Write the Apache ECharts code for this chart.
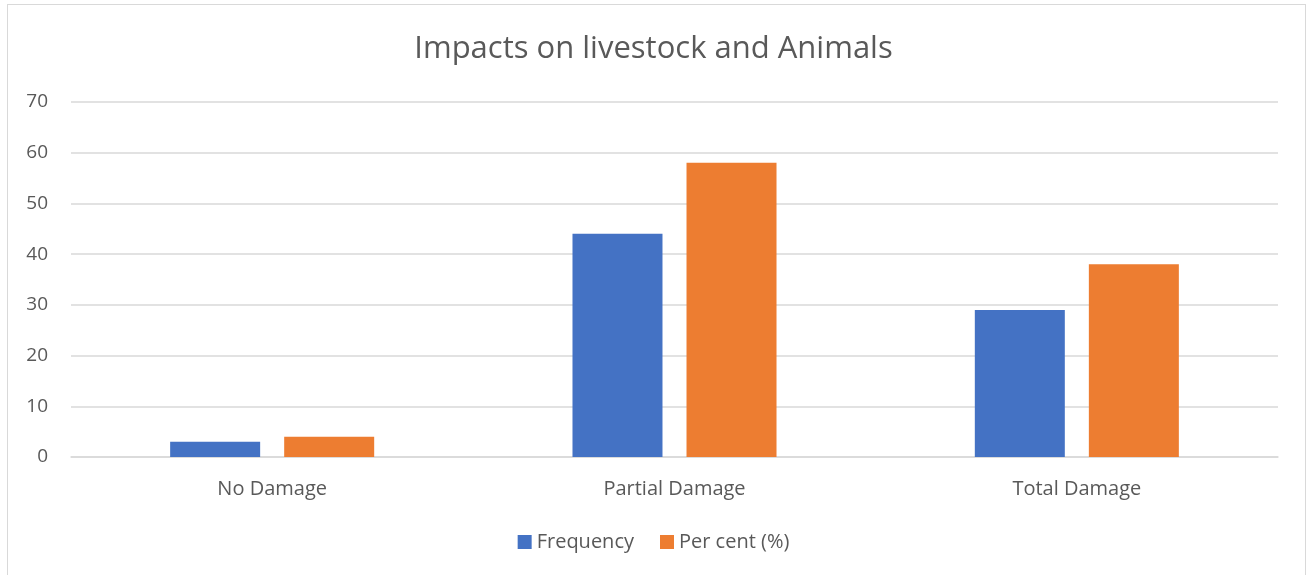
<!DOCTYPE html>
<html><head><meta charset="utf-8">
<script src="https://cdn.jsdelivr.net/npm/echarts@6/dist/echarts.min.js"></script>
<style>html,body{margin:0;padding:0;background:#fff}#c{width:1307px;height:575px}
#frame{position:absolute;left:7px;top:4px;width:1299px;height:575px;border:1px solid #d9d9d9;box-sizing:border-box;pointer-events:none}</style>
</head><body><div id="c"></div><div id="frame"></div>
<script>
const categories = ['No Damage', 'Partial Damage', 'Total Damage'];
const frequency = [3, 44, 29];
const perCent = [4, 58, 38];
const yTicks = [0, 10, 20, 30, 40, 50, 60, 70];
const F = '"Open Sans", "Noto Sans", sans-serif';
const chart = echarts.init(document.getElementById('c'), null, {renderer: 'canvas'});
chart.setOption({
  animation: false,
  title: {text: 'Impacts on livestock and Animals', left: 'center', top: 29,
    textStyle: {fontFamily: F, fontSize: 31, fontWeight: 'normal', color: '#595959'}},
  legend: {bottom: 18, left: 'center', itemWidth: 14, itemHeight: 14, itemGap: 26,
    icon: 'rect',
    textStyle: {fontFamily: F, fontSize: 20, color: '#595959'},
    data: ['Frequency', 'Per cent (%)']},
  grid: {left: 71, right: 29, top: 102, bottom: 118, containLabel: false},
  xAxis: {type: 'category', data: categories,
    axisLine: {lineStyle: {color: '#d9d9d9', width: 1.5}}, axisTick: {show: false},
    axisLabel: {fontFamily: F, fontSize: 20, color: '#595959', margin: 22}},
  yAxis: {type: 'value', min: yTicks[0], max: yTicks[yTicks.length - 1], interval: 10,
    axisLine: {show: false}, axisTick: {show: false},
    splitLine: {lineStyle: {color: '#d9d9d9', width: 1.5}},
    axisLabel: {fontFamily: F, fontSize: 19, color: '#595959', margin: 23}},
  series: [
    {name: 'Frequency', type: 'bar', data: frequency, barWidth: 90, barGap: '26.7%',
      itemStyle: {color: '#4472c4'}},
    {name: 'Per cent (%)', type: 'bar', data: perCent, barWidth: 90,
      itemStyle: {color: '#ed7d31'}}
  ]
});
</script></body></html>
